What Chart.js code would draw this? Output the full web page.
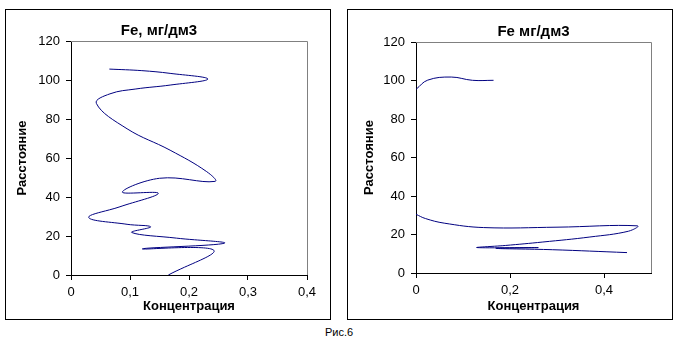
<!DOCTYPE html>
<html>
<head>
<meta charset="utf-8">
<script src="https://cdn.jsdelivr.net/npm/chart.js@4.4.0/dist/chart.umd.min.js"></script>
<style>
  body { margin: 0; background: #fff; width: 676px; height: 348px; position: relative; overflow: hidden; font-family: 'Liberation Sans', Arial, sans-serif; }
  .frame { position: absolute; top: 9px; width: 326px; height: 311px; border: 1px solid #000; box-sizing: border-box; }
  #frameLeft { left: 5px; }
  #frameRight { left: 347px; }
  canvas { position: absolute; }
  #leftChart { left: 6px; top: 10px; }
  #rightChart { left: 348px; top: 10px; }
  #caption { position: absolute; left: 325px; top: 326px; font-size: 11px; line-height: 13px; color: #000; }
</style>
</head>
<body>
<div class="frame" id="frameLeft"></div>
<div class="frame" id="frameRight"></div>
<canvas id="leftChart" width="332" height="309"></canvas>
<canvas id="rightChart" width="324" height="309"></canvas>
<div id="caption">Рис.6</div>

<script>
// left chart: Fe, мг/дм3
const leftConc = [0.065, 0.12, 0.168, 0.232, 0.168, 0.11, 0.066, 0.043, 0.095, 0.168, 0.23, 0.244, 0.15, 0.087, 0.148, 0.083, 0.03, 0.095, 0.135, 0.103, 0.179, 0.26, 0.121, 0.242, 0.165];
const leftDist = [105.6, 104.8, 103.4, 100.5, 97.4, 95.4, 92.9, 88, 75, 64, 53, 48, 49.6, 42.5, 41.9, 35, 29.5, 26, 24.7, 21.8, 18.9, 16.3, 13.4, 12.7, 0];

// right chart: Fe мг/дм3 (two separate pieces)
const rightUpperConc = [0, 0.025, 0.075, 0.12, 0.165];
const rightUpperDist = [95.4, 100.2, 101.8, 100.1, 100.1];
const rightLowerConc = [0, 0.02, 0.06, 0.144, 0.3, 0.471, 0.452, 0.37, 0.27, 0.19, 0.13, 0.26, 0.17, 0.29, 0.449];
const rightLowerDist = [30.5, 28.3, 25.9, 23.6, 23.8, 24.5, 21.7, 18.7, 16.1, 14.3, 13.2, 13.2, 12.8, 12.1, 10.6];

const distTicks = [0, 20, 40, 60, 80, 100, 120];
const leftConcTicks = [0, 0.1, 0.2, 0.3, 0.4];
const rightConcTicks = [0, 0.2, 0.4];

const FONT = "'Liberation Sans', Arial, sans-serif";
const LINE = '#000080';

const toPoints = (xs, ys) => xs.map((x, i) => ({ x: x, y: ys[i] }));
const fmt = v => String(v).replace('.', ',');

// gray top/right edge of the plot area
const plotFrame = {
  id: 'plotFrame',
  afterDraw(chart) {
    const { ctx, chartArea: a } = chart;
    ctx.save();
    ctx.strokeStyle = '#808080';
    ctx.lineWidth = 1;
    ctx.beginPath();
    ctx.moveTo(a.left, a.top + 0.5);
    ctx.lineTo(a.right + 0.5, a.top + 0.5);
    ctx.lineTo(a.right + 0.5, a.bottom);
    ctx.stroke();
    ctx.restore();
  }
};

function series(points) {
  return {
    data: points,
    showLine: true,
    borderColor: LINE,
    borderWidth: 1,
    pointRadius: 0,
    tension: 0.4,
    fill: false
  };
}

function axis(ticksList, min, max, title, fit, titlePad) {
  return {
    type: 'linear',
    min: min,
    max: max,
    afterBuildTicks: s => { s.ticks = ticksList.map(v => ({ value: v })); },
    afterFit: fit,
    ticks: {
      color: '#000',
      font: { family: FONT, size: 13 },
      padding: 5,
      maxRotation: 0,
      callback: v => fmt(v)
    },
    grid: { display: true, drawOnChartArea: false, drawTicks: true, tickLength: 5, color: '#000' },
    border: { display: true, color: '#000', width: 1 },
    title: {
      display: true,
      text: title,
      color: '#000',
      font: { family: FONT, size: 13, weight: 'bold' },
      padding: titlePad
    }
  };
}

function makeChart(id, datasets, o) {
  const xAxis = axis(o.xTicks, 0, o.xMax, 'Концентрация', s => { s.height = o.xHeight; }, { top: 0, bottom: 3 });
  const yAxis = axis(distTicks, 0, 120, 'Расстояние', s => { s.width = o.yWidth; }, { top: 4, bottom: 0 });
  yAxis.ticks.padding = 6;
  return new Chart(document.getElementById(id), {
    type: 'scatter',
    data: { datasets: datasets },
    options: {
      responsive: false,
      animation: false,
      layout: { padding: { left: o.padLeft, right: o.padRight, top: 0, bottom: 2 } },
      plugins: {
        legend: { display: false },
        tooltip: { enabled: false },
        title: {
          display: true,
          text: o.title,
          color: '#000',
          fullSize: o.fullSize,
          font: { family: FONT, size: 15, weight: 'bold' },
          padding: o.titlePad
        }
      },
      scales: { x: xAxis, y: yAxis }
    },
    plugins: [plotFrame]
  });
}

makeChart('leftChart', [series(toPoints(leftConc, leftDist))], {
  title: 'Fe, мг/дм3',
  fullSize: true,
  titlePad: { top: 12, bottom: 1 },
  xTicks: leftConcTicks,
  xMax: 0.4,
  padLeft: 5,
  padRight: 31,
  yWidth: 60,
  xHeight: 42
});

makeChart('rightChart', [
  series(toPoints(rightUpperConc, rightUpperDist)),
  series(toPoints(rightLowerConc, rightLowerDist))
], {
  title: 'Fe мг/дм3',
  fullSize: false,
  titlePad: { top: 13, bottom: 1 },
  xTicks: rightConcTicks,
  xMax: 0.5,
  padLeft: 10,
  padRight: 21,
  yWidth: 58,
  xHeight: 44
});
</script>
</body>
</html>
